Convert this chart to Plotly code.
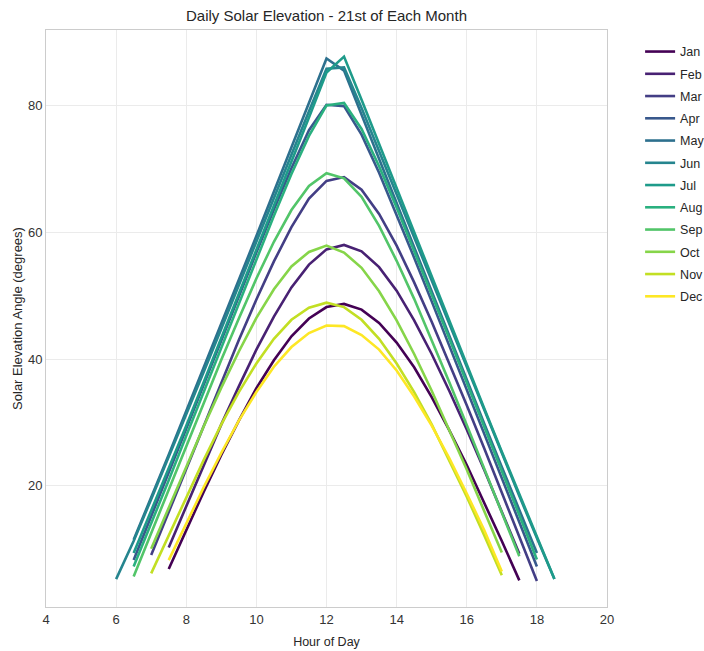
import numpy as np
import plotly.graph_objects as go

months = ["Jan", "Feb", "Mar", "Apr", "May", "Jun",
          "Jul", "Aug", "Sep", "Oct", "Nov", "Dec"]

# first sampled hour of each month's curve (half-hour steps)
start_hour = [7.5, 7.5, 7.0, 6.5, 6.5, 6.0, 6.5, 6.5, 6.5, 7.0, 7.0, 7.5]

jan = [6.9, 13.0, 19.1, 24.9, 30.3, 35.4, 39.8, 43.6, 46.4, 48.2, 48.7, 47.8, 45.7, 42.6, 38.7, 34.0, 28.8, 23.3, 17.4, 11.3, 5.1]
feb = [10.3, 16.8, 23.3, 29.7, 35.7, 41.5, 46.7, 51.3, 54.9, 57.3, 58.0, 57.0, 54.5, 50.8, 46.1, 40.8, 35.0, 28.9, 22.5, 16.0, 9.3]
mar = [9.1, 15.9, 22.8, 29.7, 36.4, 43.0, 49.4, 55.4, 60.8, 65.3, 68.1, 68.7, 66.7, 62.9, 57.9, 52.1, 45.9, 39.4, 32.7, 25.9, 19.0, 12.0, 5.0]
apr = [8.3, 15.1, 22.0, 29.0, 36.0, 43.0, 49.9, 56.8, 63.6, 70.1, 76.1, 80.1, 79.9, 75.4, 69.4, 62.8, 56.0, 49.1, 42.1, 35.1, 28.1, 21.2, 14.2, 7.3]
may = [11.5, 18.1, 24.9, 31.8, 38.6, 45.6, 52.5, 59.4, 66.4, 73.4, 80.4, 87.4, 85.5, 78.5, 71.5, 64.5, 57.5, 50.5, 43.6, 36.7, 29.8, 23.0, 16.3, 9.4]
jun = [5.3, 11.3, 17.9, 24.5, 31.2, 38.0, 44.8, 51.7, 58.5, 65.4, 72.3, 79.1, 85.8, 86.0, 79.6, 72.8, 65.9, 59.1, 52.2, 45.4, 38.6, 31.8, 25.1, 18.4, 11.8, 5.3]
jul = [9.4, 16.0, 22.7, 29.5, 36.4, 43.3, 50.2, 57.1, 64.1, 71.1, 78.1, 85.2, 87.7, 80.9, 73.9, 66.9, 59.9, 53.0, 46.0, 39.1, 32.2, 25.4, 18.7, 12.0, 5.3]
aug = [7.3, 14.0, 20.9, 27.9, 34.9, 41.9, 48.8, 55.7, 62.6, 69.2, 75.2, 80.0, 80.4, 76.3, 70.4, 63.9, 57.1, 50.2, 43.3, 36.3, 29.3, 22.3, 15.4, 8.4]
sep = [5.7, 12.5, 19.4, 26.3, 33.2, 39.9, 46.4, 52.7, 58.5, 63.5, 67.3, 69.3, 68.5, 65.6, 61.0, 55.5, 49.5, 43.0, 36.4, 29.6, 22.7, 15.8, 8.9]
oct_ = [10.1, 16.6, 23.1, 29.4, 35.5, 41.2, 46.5, 51.0, 54.6, 56.9, 57.9, 56.8, 54.4, 50.7, 46.1, 40.8, 35.0, 28.9, 22.6, 16.0, 9.5]
nov = [6.2, 12.2, 18.3, 24.1, 29.7, 34.8, 39.3, 43.2, 46.2, 48.1, 48.9, 48.2, 46.2, 43.2, 39.3, 34.8, 29.7, 24.1, 18.3, 12.2, 5.9]
dec = [8.3, 14.0, 19.8, 25.2, 30.3, 34.8, 38.8, 41.9, 44.1, 45.3, 45.2, 43.8, 41.5, 38.2, 34.1, 29.5, 24.4, 18.8, 13.0, 6.5]

series = [jan, feb, mar, apr, may, jun, jul, aug, sep, oct_, nov, dec]

# viridis sampled at 12 evenly spaced points
colors = ["#440154", "#482173", "#433e85", "#38588c", "#2d708e", "#25858e",
          "#1e9b8a", "#2ab07f", "#52c569", "#86d549", "#c2df23", "#fde725"]

x_ticks = [4, 6, 8, 10, 12, 14, 16, 18, 20]
y_ticks = [20, 40, 60, 80]

FONT = "Liberation Sans, Arial, sans-serif"

W, H = 704, 651

fig = go.Figure()
for name, vals, h0, col in zip(months, series, start_hour, colors):
    hours = h0 + 0.5 * np.arange(len(vals))
    fig.add_trace(go.Scatter(
        x=hours, y=vals, mode="lines", name=name,
        line=dict(color=col, width=2.6),
        legendgroup=name,
    ))

fig.update_layout(
    width=W, height=H,
    margin=dict(l=46, r=97, t=30, b=44, autoexpand=False),
    paper_bgcolor="white", plot_bgcolor="white",
    title=dict(text="Daily Solar Elevation - 21st of Each Month",
               x=(46 + 607) / 2 / W, xanchor="center",
               y=1 - 16 / H, yanchor="middle",
               font=dict(family=FONT, size=15, color="#262626")),
    legend=dict(x=1.059, xanchor="left", y=0.988, yanchor="top",
                font=dict(family=FONT, size=12.5, color="#262626"),
                tracegroupgap=3, bgcolor="rgba(0,0,0,0)"),
    showlegend=True,
)
fig.update_xaxes(range=[4, 20], tickvals=x_ticks, ticks="", automargin=False,
                 showgrid=True, gridcolor="#ebebeb", gridwidth=1,
                 zeroline=False, showline=True, linecolor="#cccccc",
                 linewidth=1, mirror=True,
                 tickfont=dict(family=FONT, size=13, color="#333333"),
                 title=dict(text="Hour of Day", standoff=11,
                            font=dict(family=FONT, size=12.5, color="#262626")))
fig.update_yaxes(range=[0.9, 91.9], tickvals=y_ticks, ticks="", automargin=False,
                 showgrid=True, gridcolor="#ebebeb", gridwidth=1,
                 zeroline=False, showline=True, linecolor="#cccccc",
                 linewidth=1, mirror=True,
                 tickfont=dict(family=FONT, size=13, color="#333333"),
                 title=dict(text="Solar Elevation Angle (degrees)", standoff=2,
                            font=dict(family=FONT, size=13, color="#262626")))

fig.write_html("out.html",
               config={"displayModeBar": False},
               post_script="document.body.style.margin='0';"
                           "document.body.style.overflow='hidden';")
